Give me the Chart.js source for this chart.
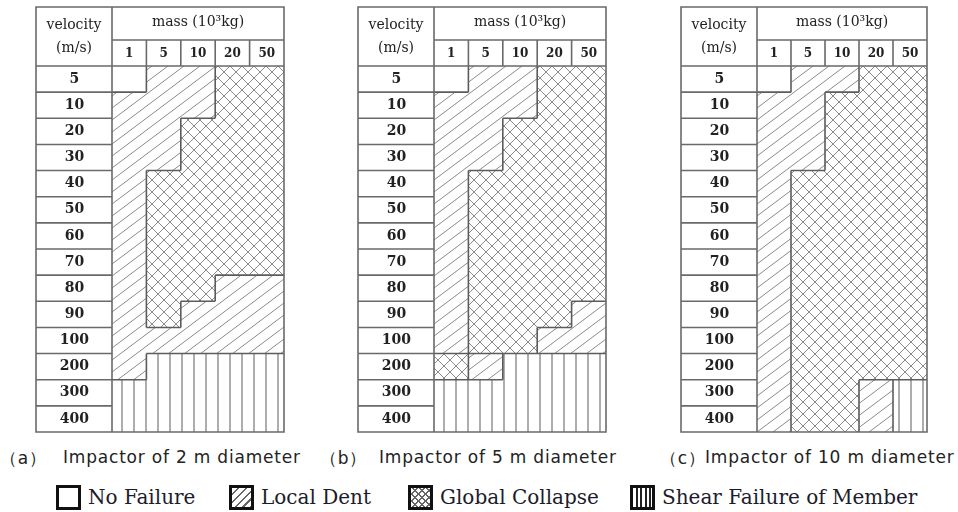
<!DOCTYPE html>
<html>
<head>
<meta charset="utf-8">
<script src="https://cdn.jsdelivr.net/npm/chart.js@4.4.1/dist/chart.umd.min.js"></script>
<style>
body { margin: 0; background: #fff; }
#wrap { position: relative; width: 958px; height: 512px; overflow: hidden; background: #fff; }
canvas { position: absolute; top: 0; }
.cap { position: absolute; top: 447px; font-family: "DejaVu Sans"; font-size: 17px; letter-spacing: 0.8px; color: #222; white-space: nowrap; }
.leg { position: absolute; top: 484px; height: 26px; display: flex; align-items: center; font-family: "DejaVu Serif"; font-size: 20px; color: #1c1c2c; white-space: nowrap; }
.sw { display: inline-block; width: 19px; height: 19px; border: 3px solid #111; margin-right: 7px; background: #fff; }
.sw-l { background: repeating-linear-gradient(135deg, #fff 0 4px, #666 4px 5.5px); }
.sw-g { background: repeating-linear-gradient(45deg, transparent 0 4px, #666 4px 5px), repeating-linear-gradient(135deg, #fff 0 4px, #666 4px 5px); }
.sw-s { background: repeating-linear-gradient(90deg, #fff 0 2.5px, #222 2.5px 4.5px); }
</style>
</head>
<body>
<div id="wrap">
    <canvas id="chartA" width="256" height="440" style="left:32px"></canvas>
    <canvas id="chartB" width="256" height="440" style="left:354px"></canvas>
    <canvas id="chartC" width="254" height="440" style="left:677px"></canvas>

    <div class="cap" style="left:0px">（a）</div>
    <div class="cap" style="left:63px">Impactor of 2 m diameter</div>
    <div class="cap" style="left:320px">（b）</div>
    <div class="cap" style="left:379px">Impactor of 5 m diameter</div>
    <div class="cap" style="left:660px">（c）</div>
    <div class="cap" style="left:705px">Impactor of 10 m diameter</div>

    <div class="leg" style="left:56px"><span class="sw"></span>No Failure</div>
    <div class="leg" style="left:229px"><span class="sw sw-l"></span>Local Dent</div>
    <div class="leg" style="left:408px"><span class="sw sw-g"></span>Global Collapse</div>
    <div class="leg" style="left:630px"><span class="sw sw-s"></span>Shear Failure of Member</div>
</div>
<script>
var masses = ['1', '5', '10', '20', '50'];
var velocities = ['5', '10', '20', '30', '40', '50', '60', '70', '80', '90', '100', '200', '300', '400'];
// one string per velocity row, one letter per mass column
// N = no failure, L = local dent, G = global collapse, S = shear failure of member
var modesA = ['NLLGG', 'LLLGG', 'LLGGG', 'LLGGG', 'LGGGG', 'LGGGG', 'LGGGG', 'LGGGG', 'LGGLL', 'LGLLL', 'LLLLL', 'LSSSS', 'SSSSS', 'SSSSS'];
var modesB = ['NLLGG', 'LLLGG', 'LLGGG', 'LLGGG', 'LGGGG', 'LGGGG', 'LGGGG', 'LGGGG', 'LGGGG', 'LGGGL', 'LGGLL', 'GLSSS', 'SSSSS', 'SSSSS'];
var modesC = ['NLLGG', 'LLGGG', 'LLGGG', 'LLGGG', 'LGGGG', 'LGGGG', 'LGGGG', 'LGGGG', 'LGGGG', 'LGGGG', 'LGGGG', 'LGGGG', 'LGGLS', 'LGGLS'];

var serif = 'DejaVu Serif';

function makePatterns(ctx) {
    function tile(w, h, draw) {
        var c = document.createElement('canvas');
        c.width = w;
        c.height = h;
        var t = c.getContext('2d');
        t.fillStyle = '#fff';
        t.fillRect(0, 0, w, h);
        t.strokeStyle = '#8a8a8a';
        t.lineWidth = 1;
        t.beginPath();
        draw(t, w, h);
        t.stroke();
        return ctx.createPattern(c, 'repeat');
    }
    return {
        N: '#ffffff',
        L: tile(16, 12, function (t, w, h) {
            t.moveTo(-w, h); t.lineTo(w, -h);
            t.moveTo(0, h); t.lineTo(w, 0);
            t.moveTo(0, 2 * h); t.lineTo(2 * w, 0);
        }),
        G: tile(12, 12, function (t, w, h) {
            t.moveTo(-2, -2); t.lineTo(w + 2, h + 2);
            t.moveTo(-2, h + 2); t.lineTo(w + 2, -2);
        }),
        S: tile(12, 4, function (t, w, h) {
            t.lineWidth = 1.4;
            t.moveTo(6, 0); t.lineTo(6, h);
        })
    };
}

var tablePlugin = {
    id: 'tableLines',
    afterDatasetsDraw: function (chart, args, opts) {
        var ctx = chart.ctx;
        var xs = chart.scales.x, ys = chart.scales.y;
        var area = chart.chartArea;
        var modes = opts.modes;
        var rowH = (area.bottom - area.top) / velocities.length;
        var colX = function (i) { return xs.getPixelForValue(i); };
        var rowY = function (r) { return area.top + r * rowH; };
        var L = ys.left, T = xs.top, S = area.left, R = area.right, B = area.bottom, M = T + 33;

        ctx.save();
        // boundaries between failure regions
        ctx.strokeStyle = '#5c5c5c';
        ctx.lineWidth = 1.6;
        ctx.beginPath();
        for (var r = 0; r < modes.length; r++) {
            for (var c = 0; c < masses.length; c++) {
                if (c < masses.length - 1 && modes[r][c] !== modes[r][c + 1]) {
                    ctx.moveTo(colX(c + 1), rowY(r));
                    ctx.lineTo(colX(c + 1), rowY(r + 1));
                }
                if (r < modes.length - 1 && modes[r][c] !== modes[r + 1][c]) {
                    ctx.moveTo(colX(c), rowY(r + 1));
                    ctx.lineTo(colX(c + 1), rowY(r + 1));
                }
            }
        }
        ctx.stroke();

        // table frame
        ctx.strokeStyle = '#6a6a6a';
        ctx.lineWidth = 1.6;
        ctx.beginPath();
        ctx.rect(L, T, R - L, B - T);
        ctx.moveTo(S, T); ctx.lineTo(S, B);
        ctx.moveTo(S, M); ctx.lineTo(R, M);
        ctx.moveTo(L, area.top); ctx.lineTo(R, area.top);
        for (var i = 1; i < masses.length; i++) {
            ctx.moveTo(colX(i), M); ctx.lineTo(colX(i), area.top);
        }
        for (var k = 1; k < velocities.length; k++) {
            ctx.moveTo(L, rowY(k)); ctx.lineTo(S, rowY(k));
        }
        ctx.stroke();

        ctx.fillStyle = '#222';
        ctx.font = '14px "' + serif + '"';
        ctx.textAlign = 'center';
        ctx.textBaseline = 'middle';
        ctx.fillText('velocity', (L + S) / 2, T + 18);
        ctx.fillText('(m/s)', (L + S) / 2, T + 41);
        ctx.restore();
    }
};

function makePanel(id, modes) {
    var ctx = document.getElementById(id).getContext('2d');
    var pat = makePatterns(ctx);
    var datasets = masses.map(function (m, c) {
        return {
            label: m,
            data: velocities.map(function () { return 1; }),
            backgroundColor: modes.map(function (row) { return pat[row[c]]; }),
            borderWidth: 0,
            barPercentage: 1,
            categoryPercentage: 1
        };
    });
    return new Chart(ctx, {
        type: 'bar',
        data: {
            labels: velocities,
            datasets: datasets
        },
        options: {
            indexAxis: 'y',
            responsive: false,
            animation: false,
            events: [],
            layout: {
                padding: { left: 4, right: 4, top: 7, bottom: 8 }
            },
            scales: {
                x: {
                    type: 'linear',
                    position: 'top',
                    stacked: true,
                    min: 0,
                    max: masses.length,
                    grid: { display: false, drawTicks: false },
                    border: { display: false },
                    afterBuildTicks: function (axis) {
                        axis.ticks = masses.map(function (m, i) { return { value: i + 0.5 }; });
                    },
                    afterFit: function (axis) {
                        axis.height = 59;
                        axis.paddingLeft = 0;
                        axis.paddingRight = 0;
                    },
                    ticks: {
                        autoSkip: false,
                        maxRotation: 0,
                        padding: 5,
                        color: '#222',
                        font: { family: serif, size: 12, weight: 'bold' },
                        callback: function (value, index) {
                            return masses[index];
                        }
                    },
                    title: {
                        display: true,
                        text: 'mass (10³kg)',
                        color: '#222',
                        font: { family: serif, size: 14 },
                        padding: { top: 7, bottom: 0 }
                    }
                },
                y: {
                    type: 'category',
                    stacked: true,
                    grid: { display: false, drawTicks: false },
                    border: { display: false },
                    afterFit: function (axis) {
                        axis.width = 76;
                        axis.paddingTop = 0;
                        axis.paddingBottom = 0;
                    },
                    ticks: {
                        autoSkip: false,
                        crossAlign: 'center',
                        padding: 23,
                        color: '#222',
                        font: { family: serif, size: 14, weight: 'bold' }
                    }
                }
            },
            plugins: {
                legend: { display: false },
                tooltip: { enabled: false },
                tableLines: { modes: modes }
            }
        },
        plugins: [tablePlugin]
    });
}

makePanel('chartA', modesA);
makePanel('chartB', modesB);
makePanel('chartC', modesC);
</script>
</body>
</html>
